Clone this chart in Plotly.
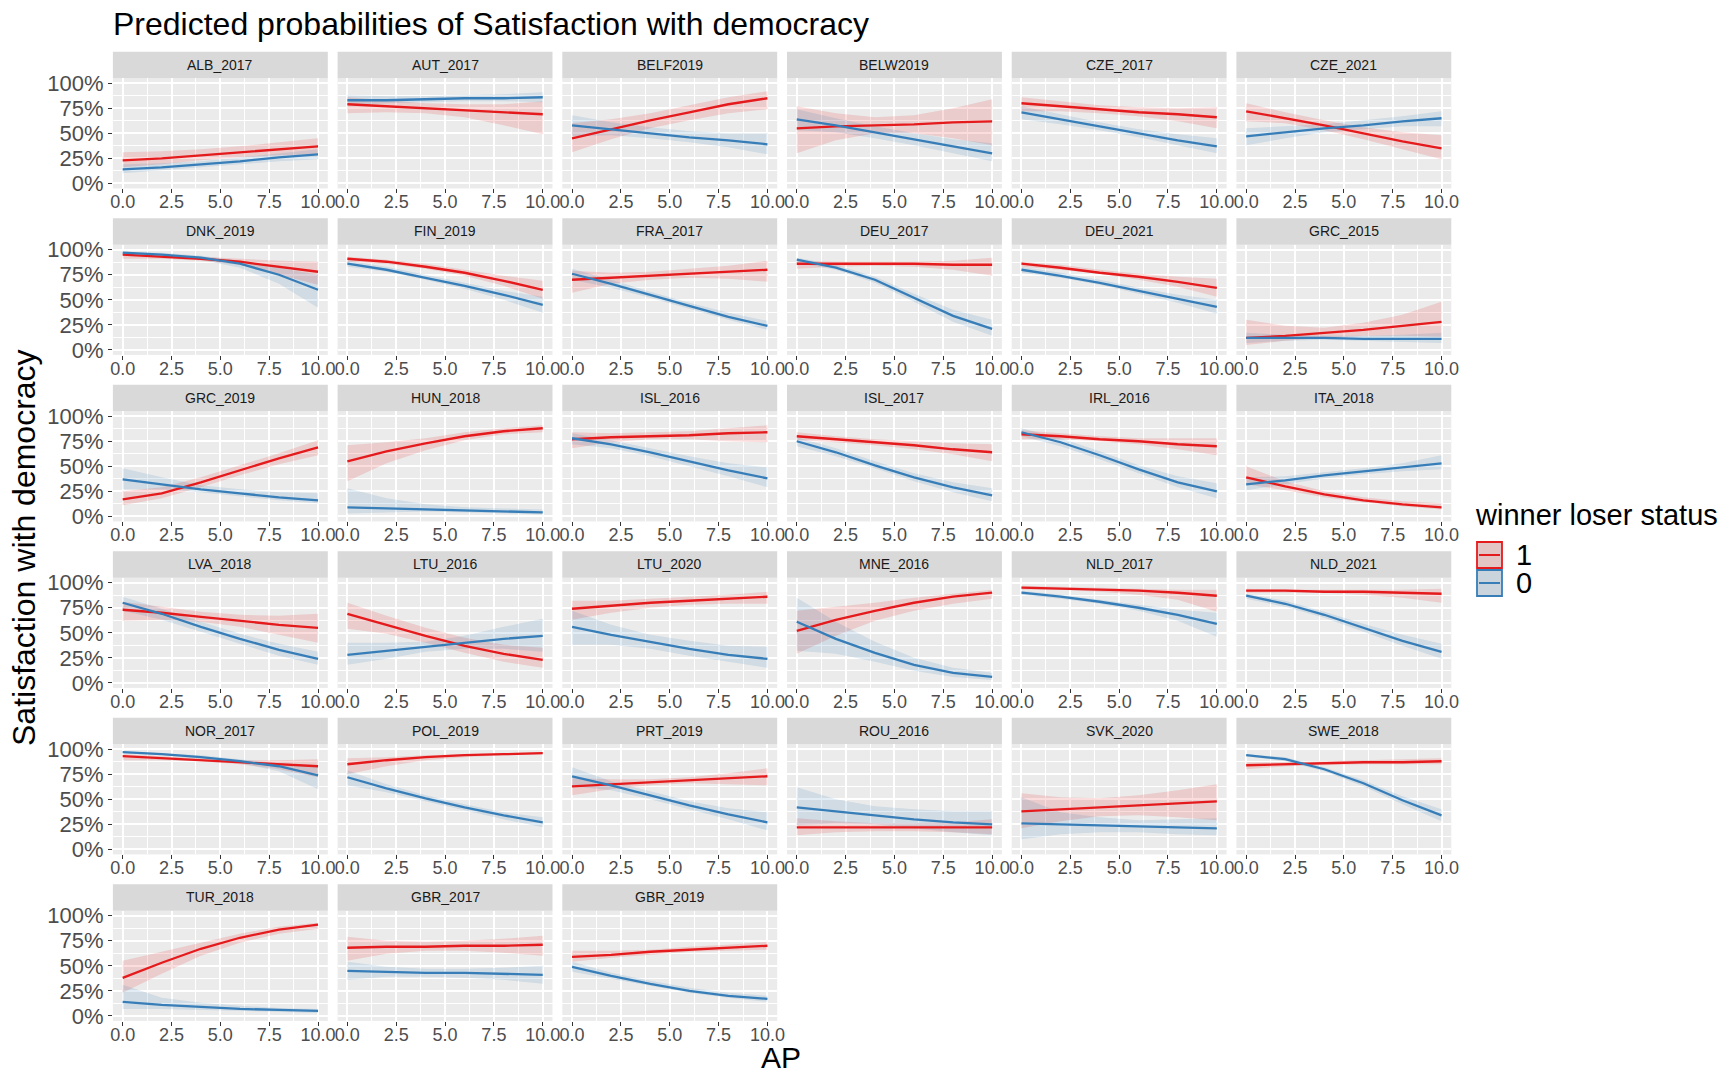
import plotly.graph_objects as go

# ---------------- data ----------------
AP = [0, 2, 4, 6, 8, 10]

panels = ["ALB_2017", "AUT_2017", "BELF2019", "BELW2019", "CZE_2017", "CZE_2021",
          "DNK_2019", "FIN_2019", "FRA_2017", "DEU_2017", "DEU_2021", "GRC_2015",
          "GRC_2019", "HUN_2018", "ISL_2016", "ISL_2017", "IRL_2016", "ITA_2018",
          "LVA_2018", "LTU_2016", "LTU_2020", "MNE_2016", "NLD_2017", "NLD_2021",
          "NOR_2017", "POL_2019", "PRT_2019", "ROU_2016", "SVK_2020", "SWE_2018",
          "TUR_2018", "GBR_2017", "GBR_2019"]

# winner loser status = 1 (red)
win_fit = [
    [.23, .25, .28, .31, .34, .37], [.79, .77, .75, .73, .71, .69], [.45, .54, .63, .71, .79, .85],
    [.55, .57, .58, .59, .61, .62], [.80, .77, .74, .71, .69, .66], [.72, .65, .58, .50, .42, .35],
    [.95, .93, .91, .88, .83, .78], [.91, .88, .83, .77, .69, .60], [.70, .72, .74, .76, .78, .80],
    [.86, .86, .86, .86, .85, .85], [.86, .82, .77, .73, .68, .62], [.12, .14, .17, .20, .24, .28],
    [.17, .23, .34, .46, .58, .69], [.55, .65, .73, .80, .85, .88], [.77, .79, .80, .81, .83, .84],
    [.80, .77, .74, .71, .67, .64], [.82, .80, .77, .75, .72, .70], [.39, .30, .22, .16, .12, .09],
    [.73, .70, .66, .62, .58, .55], [.69, .58, .47, .37, .29, .23], [.74, .77, .80, .82, .84, .86],
    [.52, .63, .72, .80, .86, .90], [.95, .94, .93, .92, .90, .87], [.92, .92, .91, .91, .90, .89],
    [.93, .91, .89, .87, .85, .83], [.85, .89, .92, .94, .95, .96], [.63, .65, .67, .69, .71, .73],
    [.22, .22, .22, .22, .22, .22], [.38, .40, .42, .44, .46, .48], [.84, .85, .86, .87, .87, .88],
    [.38, .53, .67, .78, .86, .91], [.68, .69, .69, .70, .70, .71], [.59, .61, .64, .66, .68, .70]]
win_lo = [
    [.16, .19, .23, .26, .28, .29], [.70, .71, .70, .66, .58, .49], [.31, .44, .55, .63, .70, .74],
    [.30, .43, .50, .50, .45, .38], [.72, .72, .70, .67, .62, .55], [.62, .60, .53, .44, .34, .24],
    [.91, .91, .89, .85, .75, .65], [.88, .86, .81, .74, .64, .51], [.57, .66, .70, .72, .71, .68],
    [.81, .83, .84, .83, .80, .74], [.83, .80, .76, .70, .63, .53], [.05, .09, .12, .14, .14, .13],
    [.11, .18, .29, .41, .52, .61], [.35, .53, .66, .76, .82, .84], [.68, .74, .77, .77, .75, .74],
    [.76, .74, .71, .67, .62, .55], [.77, .77, .75, .72, .67, .61], [.32, .26, .19, .14, .10, .07],
    [.62, .63, .61, .56, .48, .40], [.54, .49, .40, .30, .21, .15], [.63, .70, .75, .78, .79, .79],
    [.29, .47, .62, .72, .79, .84], [.93, .93, .91, .88, .83, .71], [.90, .90, .90, .88, .85, .80],
    [.89, .89, .88, .85, .80, .72], [.75, .83, .89, .92, .94, .95], [.54, .60, .64, .66, .65, .64],
    [.14, .17, .18, .18, .17, .15], [.21, .28, .33, .34, .32, .29], [.80, .83, .84, .85, .85, .85],
    [.23, .42, .60, .73, .82, .87], [.55, .62, .65, .65, .63, .60], [.54, .58, .61, .64, .65, .66]]
win_hi = [
    [.31, .32, .34, .37, .41, .45], [.86, .83, .80, .79, .79, .82], [.60, .64, .70, .78, .86, .92],
    [.77, .70, .66, .68, .75, .84], [.86, .82, .78, .76, .75, .76], [.80, .71, .63, .56, .51, .48],
    [.97, .95, .93, .91, .89, .88], [.93, .90, .86, .80, .74, .69], [.79, .77, .78, .81, .84, .89],
    [.89, .88, .88, .88, .89, .92], [.88, .85, .80, .76, .73, .71], [.30, .24, .22, .27, .35, .48],
    [.25, .29, .39, .51, .63, .76], [.71, .74, .78, .84, .88, .91], [.84, .83, .84, .85, .88, .91],
    [.84, .80, .77, .75, .73, .72], [.86, .83, .80, .78, .78, .78], [.50, .35, .25, .19, .15, .13],
    [.81, .76, .71, .68, .67, .69], [.80, .67, .55, .45, .38, .35], [.82, .82, .84, .86, .88, .91],
    [.72, .76, .80, .85, .89, .93], [.97, .96, .95, .94, .93, .93], [.94, .93, .93, .93, .93, .94],
    [.95, .93, .91, .89, .89, .90], [.91, .92, .94, .95, .96, .97], [.71, .70, .70, .72, .76, .81],
    [.31, .28, .26, .26, .27, .30], [.56, .52, .51, .54, .59, .65], [.87, .87, .88, .89, .90, .91],
    [.55, .64, .73, .82, .89, .93], [.79, .75, .74, .75, .77, .80], [.65, .65, .66, .69, .71, .74]]

# winner loser status = 0 (blue)
los_fit = [
    [.14, .16, .19, .22, .26, .29], [.83, .83, .84, .85, .85, .86], [.58, .54, .50, .46, .43, .39],
    [.64, .58, .51, .44, .37, .30], [.71, .64, .57, .50, .43, .37], [.47, .51, .55, .58, .62, .65],
    [.97, .95, .92, .86, .75, .60], [.86, .80, .72, .64, .55, .45], [.76, .66, .55, .44, .33, .24],
    [.90, .82, .70, .52, .34, .21], [.80, .74, .67, .59, .51, .43], [.12, .12, .12, .11, .11, .11],
    [.37, .32, .27, .23, .19, .16], [.09, .08, .07, .06, .05, .04], [.78, .72, .64, .55, .46, .38],
    [.75, .64, .51, .39, .29, .21], [.84, .74, .61, .47, .34, .25], [.32, .36, .41, .45, .49, .53],
    [.80, .69, .56, .44, .33, .24], [.28, .32, .36, .40, .44, .47], [.56, .48, .41, .34, .28, .24],
    [.61, .44, .30, .18, .10, .06], [.90, .86, .81, .75, .68, .59], [.87, .79, .68, .55, .42, .31],
    [.97, .95, .92, .88, .83, .74], [.72, .61, .51, .42, .34, .27], [.73, .64, .54, .44, .35, .27],
    [.42, .38, .34, .30, .27, .25], [.26, .25, .24, .23, .22, .21], [.94, .90, .80, .66, .49, .34],
    [.14, .11, .09, .07, .06, .05], [.45, .44, .43, .43, .42, .41], [.49, .40, .32, .25, .20, .17]]
los_lo = [
    [.10, .13, .16, .19, .22, .24], [.78, .80, .81, .82, .82, .81], [.47, .48, .45, .41, .36, .29],
    [.53, .51, .45, .38, .30, .22], [.64, .59, .53, .46, .38, .30], [.38, .45, .51, .54, .57, .57],
    [.95, .94, .90, .82, .66, .42], [.83, .78, .70, .61, .50, .37], [.70, .62, .52, .41, .30, .20],
    [.87, .80, .67, .48, .28, .14], [.77, .72, .65, .56, .47, .36], [.07, .09, .10, .09, .08, .07],
    [.27, .27, .24, .20, .16, .13], [.03, .04, .05, .04, .03, .02], [.72, .68, .60, .50, .40, .29],
    [.70, .60, .48, .35, .24, .15], [.80, .70, .57, .43, .29, .18], [.26, .32, .38, .42, .45, .47],
    [.72, .63, .51, .39, .27, .18], [.18, .24, .31, .34, .34, .31], [.38, .38, .34, .27, .21, .15],
    [.32, .29, .21, .12, .06, .03], [.88, .84, .79, .72, .62, .46], [.84, .76, .65, .51, .37, .24],
    [.96, .94, .91, .86, .78, .60], [.64, .57, .48, .39, .30, .22], [.63, .59, .50, .40, .30, .19],
    [.24, .26, .25, .21, .17, .14], [.10, .15, .17, .17, .15, .14], [.93, .88, .78, .63, .45, .28],
    [.07, .07, .06, .05, .04, .03], [.36, .39, .39, .38, .36, .32], [.44, .37, .30, .23, .18, .14]]
los_hi = [
    [.19, .20, .22, .26, .30, .34], [.88, .87, .87, .88, .89, .91], [.68, .61, .56, .52, .50, .50],
    [.74, .65, .57, .50, .44, .40], [.77, .69, .61, .54, .49, .45], [.55, .57, .59, .63, .67, .72],
    [.98, .97, .94, .89, .82, .75], [.89, .83, .75, .67, .59, .53], [.81, .70, .58, .47, .37, .29],
    [.92, .85, .73, .56, .40, .30], [.83, .77, .70, .62, .55, .50], [.17, .15, .14, .14, .15, .17],
    [.48, .39, .31, .27, .24, .23], [.28, .18, .12, .09, .08, .07], [.83, .76, .68, .60, .53, .49],
    [.79, .68, .55, .43, .34, .28], [.88, .78, .65, .51, .40, .33], [.39, .40, .44, .48, .53, .61],
    [.86, .74, .61, .49, .39, .31], [.40, .40, .41, .47, .56, .64], [.72, .58, .48, .42, .37, .36],
    [.85, .61, .41, .25, .15, .10], [.92, .88, .83, .78, .73, .70], [.89, .82, .71, .59, .48, .39],
    [.98, .96, .94, .90, .86, .84], [.79, .65, .54, .45, .37, .32], [.82, .68, .58, .48, .41, .37],
    [.62, .50, .43, .40, .38, .38], [.52, .37, .32, .29, .30, .31], [.95, .92, .82, .69, .53, .40],
    [.31, .18, .13, .10, .08, .07], [.54, .49, .47, .47, .48, .50], [.54, .43, .35, .28, .23, .20]]

x_ticks = [0, 2.5, 5, 7.5, 10]
y_ticks = [0, 0.25, 0.5, 0.75, 1.0]
y_tick_labels = ["0%", "25%", "50%", "75%", "100%"]
legend_labels = ["1", "0"]

# ---------------- styling ----------------
W, H = 1719, 1074
RED, BLUE = "#E41A1C", "#377EB8"
RED_FILL, BLUE_FILL = "rgba(228,26,28,0.15)", "rgba(55,126,184,0.15)"
FONT = "Liberation Sans, Arial, Helvetica, sans-serif"

NCOL = 6
COL_LEFT0, COL_PITCH, COL_W = 112.9, 224.7, 214.9
ROW_TOP0, ROW_PITCH, STRIP_H, PANEL_BOT = 51.7, 166.5, 26.5, 136.7

fig = go.Figure()
layout = dict(
    template="none",
    width=W, height=H, margin=dict(l=0, r=0, t=0, b=0, autoexpand=False),
    paper_bgcolor="white", plot_bgcolor="#EBEBEB", showlegend=False,
    font=dict(family=FONT, color="#1A1A1A"),
)
shapes, annotations = [], []

for i, name in enumerate(panels):
    r, c = divmod(i, NCOL)
    k = i + 1
    sfx = "" if k == 1 else str(k)
    left = COL_LEFT0 + COL_PITCH * c
    right = left + COL_W
    strip_top = ROW_TOP0 + ROW_PITCH * r
    strip_bot = strip_top + STRIP_H
    pbot = strip_top + PANEL_BOT

    xa = "x" + sfx
    ya = "y" + sfx

    # ribbons
    for lo, hi, fc in ((win_lo[i], win_hi[i], RED_FILL), (los_lo[i], los_hi[i], BLUE_FILL)):
        fig.add_trace(go.Scatter(
            x=AP + AP[::-1], y=hi + lo[::-1], fill="toself", fillcolor=fc,
            line=dict(width=0), mode="lines", hoverinfo="skip",
            xaxis=xa, yaxis=ya))
    # lines
    for fit, col in ((win_fit[i], RED), (los_fit[i], BLUE)):
        fig.add_trace(go.Scatter(
            x=AP, y=fit, mode="lines", line=dict(color=col, width=2.3),
            xaxis=xa, yaxis=ya))

    layout["xaxis" + sfx] = dict(
        domain=[left / W, right / W], anchor=ya, range=[-0.5, 10.5], automargin=False,
        tickvals=x_ticks, ticktext=[f"{v:.1f}" for v in x_ticks],
        showgrid=True, gridcolor="white", gridwidth=1.6, zeroline=False,
        minor=dict(dtick=1.25, tick0=0, showgrid=True, gridcolor="white", gridwidth=0.7, ticks=""),
        ticks="outside", ticklen=4, tickwidth=1.2, tickcolor="#333333", ticklabelstandoff=-7,
        tickfont=dict(size=18, color="#4D4D4D", family=FONT), showline=False,
    )
    layout["yaxis" + sfx] = dict(
        domain=[1 - pbot / H, 1 - strip_bot / H], anchor=xa, range=[-0.05, 1.05], automargin=False,
        tickvals=y_ticks, ticktext=y_tick_labels,
        showticklabels=(c == 0), ticks="outside" if c == 0 else "",
        ticklen=4, tickwidth=1.2, tickcolor="#333333",
        tickfont=dict(size=22, color="#4D4D4D", family=FONT),
        showgrid=True, gridcolor="white", gridwidth=1.6, zeroline=False, showline=False,
        minor=dict(dtick=0.125, tick0=0, showgrid=True, gridcolor="white", gridwidth=0.7, ticks=""),
    )
    # strip
    shapes.append(dict(type="rect", xref="paper", yref="paper",
                       x0=left / W, x1=right / W, y0=1 - strip_bot / H, y1=1 - strip_top / H,
                       fillcolor="#D9D9D9", line=dict(width=0), layer="below"))
    annotations.append(dict(text=name, xref="paper", yref="paper",
                            x=(left + right) / 2 / W, y=1 - (strip_top + strip_bot) / 2 / H,
                            xanchor="center", yanchor="middle", showarrow=False,
                            font=dict(size=14, color="#1A1A1A", family=FONT)))

# titles
annotations.append(dict(text="Predicted probabilities of Satisfaction with democracy",
                        xref="paper", yref="paper", x=111 / W, y=1 - 24 / H,
                        xanchor="left", yanchor="middle", showarrow=False,
                        font=dict(size=32, color="black", family=FONT)))
annotations.append(dict(text="Satisfaction with democracy", xref="paper", yref="paper",
                        x=24 / W, y=1 - 548 / H, textangle=-90,
                        xanchor="center", yanchor="middle", showarrow=False,
                        font=dict(size=32, color="black", family=FONT)))
annotations.append(dict(text="AP", xref="paper", yref="paper", x=781 / W, y=1 - 1057 / H,
                        xanchor="center", yanchor="middle", showarrow=False, borderpad=0,
                        font=dict(size=30, color="black", family=FONT)))

# legend (drawn manually)
annotations.append(dict(text="winner loser status", xref="paper", yref="paper",
                        x=1473 / W, y=1 - 515 / H, xanchor="left", yanchor="middle",
                        showarrow=False, font=dict(size=29, color="black", family=FONT)))
for j, (lab, col, fc) in enumerate(zip(legend_labels, (RED, BLUE), (RED_FILL, BLUE_FILL))):
    y0, y1 = 542 + 28 * j, 568 + 28 * j
    shapes.append(dict(type="rect", xref="paper", yref="paper",
                       x0=1477 / W, x1=1502 / W, y0=1 - y1 / H, y1=1 - y0 / H,
                       fillcolor="#E3E3E3", line=dict(width=0)))
    shapes.append(dict(type="rect", xref="paper", yref="paper",
                       x0=1477 / W, x1=1502 / W, y0=1 - y1 / H, y1=1 - y0 / H,
                       fillcolor=fc, line=dict(color=col, width=1.8)))
    shapes.append(dict(type="line", xref="paper", yref="paper",
                       x0=1479 / W, x1=1500 / W, y0=1 - (y0 + y1) / 2 / H, y1=1 - (y0 + y1) / 2 / H,
                       line=dict(color=col, width=2)))
    annotations.append(dict(text=lab, xref="paper", yref="paper",
                            x=1514 / W, y=1 - (y0 + y1) / 2 / H, xanchor="left", yanchor="middle",
                            showarrow=False, font=dict(size=29, color="black", family=FONT)))

layout["shapes"] = shapes
layout["annotations"] = annotations
fig.update_layout(**layout)
fig.write_html("out.html", config={"displayModeBar": False},
               post_script="document.body.style.margin='0';document.body.style.overflow='hidden';")
